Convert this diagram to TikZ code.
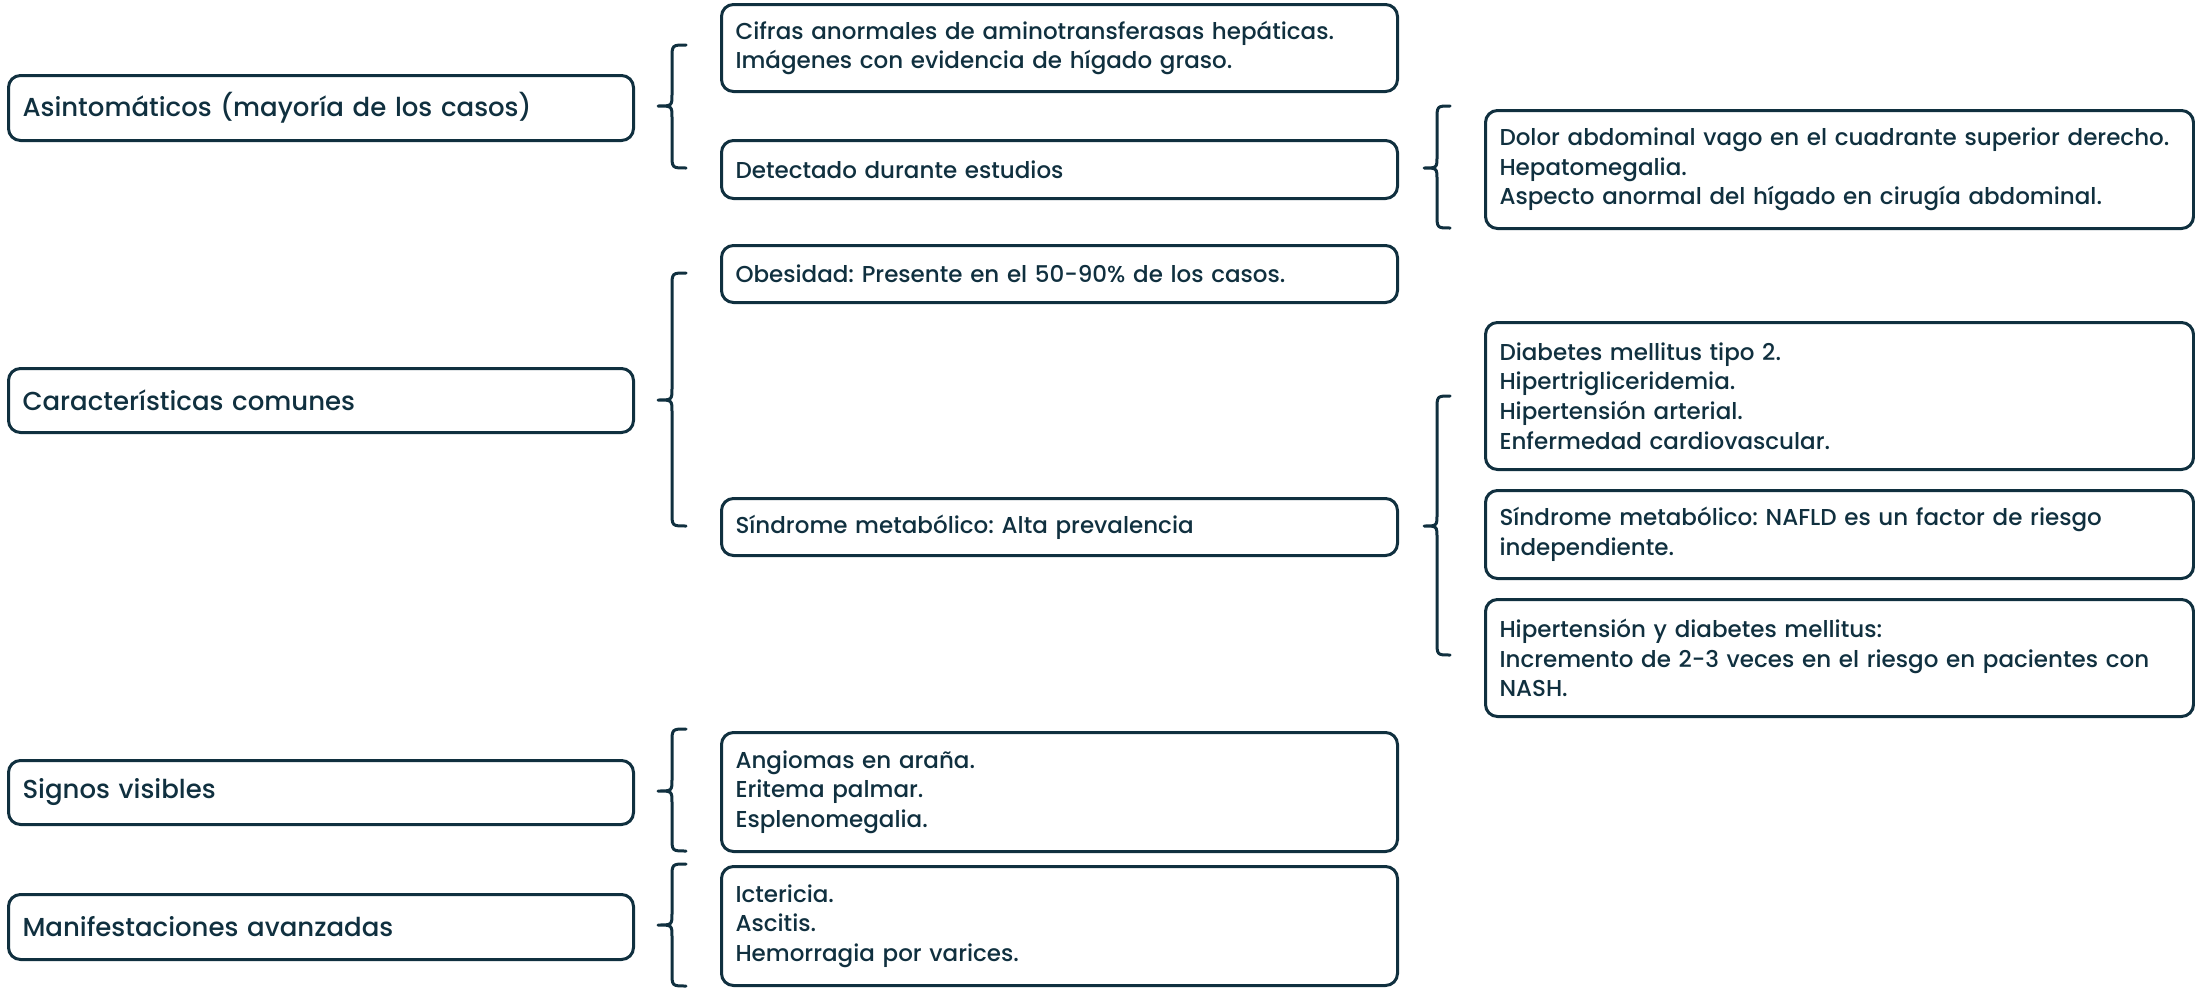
\documentclass[tikz,border=0pt]{standalone}
\usepackage{fontspec}
\setmainfont{Poppins}[UprightFont=* Medium]
\frenchspacing
\definecolor{navy}{HTML}{10303F}
\tikzset{
  box/.style={draw=navy, line width=3pt, rounded corners=12pt, anchor=north west,
    inner xsep=14pt, inner ysep=0pt, align=left, text=navy,
    font=\fontsize{23}{29.6}\selectfont},
  lbox/.style={box, minimum width=625pt, text width=597pt, font=\fontsize{26}{32}\selectfont},
  mbox/.style={box, minimum width=676pt, text width=648pt},
  rbox/.style={box, minimum width=708pt, text width=680pt},
  brc/.style={draw=navy, line width=3pt, line cap=round, line join=round},
}
\newcommand{\mybrace}[6]{% xr xm xl yt ym yb
  \draw[brc] (#1,#4) .. controls (#2,#4) .. (#2,#4+14) -- (#2,#5-12)
    .. controls (#2,#5) .. (#3,#5) .. controls (#2,#5) .. (#2,#5+12)
    -- (#2,#6-14) .. controls (#2,#6) .. (#1,#6);}
\begin{document}
\begin{tikzpicture}[x=1pt,y=-1pt]
\useasboundingbox (0,0) rectangle (2195,991);
% left column
\node[lbox, minimum height=65pt] (L1) at (7,74) {Asintomáticos (mayoría de los casos)};
\node[lbox, minimum height=64pt] (L2) at (7,367) {Características comunes};
\node[lbox, minimum height=64pt] (L3) at (7,759) {Signos visibles};
\node[lbox, minimum height=65pt] (L4) at (7,893) {Manifestaciones avanzadas};
% middle column
\node[mbox, minimum height=87pt] (M1) at (720,3) {Cifras anormales de aminotransferasas hepáticas.\\Imágenes con evidencia de hígado graso.};
\node[mbox, minimum height=58pt] (M2) at (720,139) {Detectado durante estudios};
\node[mbox, minimum height=57pt] (M3) at (720,244) {Obesidad: Presente en el 50-90\% de los casos.};
\node[mbox, minimum height=57pt] (M4) at (720,497) {Síndrome metabólico: Alta prevalencia};
\node[mbox, minimum height=119pt] (M5) at (720,731) {Angiomas en araña.\\Eritema palmar.\\Esplenomegalia.};
\node[mbox, minimum height=119pt] (M6) at (720,865) {Ictericia.\\Ascitis.\\Hemorragia por varices.};
% right column
\node[rbox, minimum height=118pt] (R1) at (1484,109) {Dolor abdominal vago en el cuadrante superior derecho.\\Hepatomegalia.\\Aspecto anormal del hígado en cirugía abdominal.};
\node[rbox, minimum height=147pt] (R2) at (1484,321) {Diabetes mellitus tipo 2.\\Hipertrigliceridemia.\\Hipertensión arterial.\\Enfermedad cardiovascular.};
\node[rbox, minimum height=88pt] (R3) at (1484,489) {Síndrome metabólico: NAFLD es un factor de riesgo\\independiente.};
\node[rbox, minimum height=117pt] (R4) at (1484,598) {Hipertensión y diabetes mellitus:\\Incremento de 2-3 veces en el riesgo en pacientes con\\NASH.};
% braces
\mybrace{686}{672}{658}{45}{106}{168}
\mybrace{686}{672}{658}{273}{400}{526}
\mybrace{686}{672}{658}{729}{791}{851}
\mybrace{686}{672}{658}{864}{925}{986}
\mybrace{1450}{1437}{1424}{106}{168}{228}
\mybrace{1450}{1437}{1424}{396}{526}{655}
\end{tikzpicture}
\end{document}
